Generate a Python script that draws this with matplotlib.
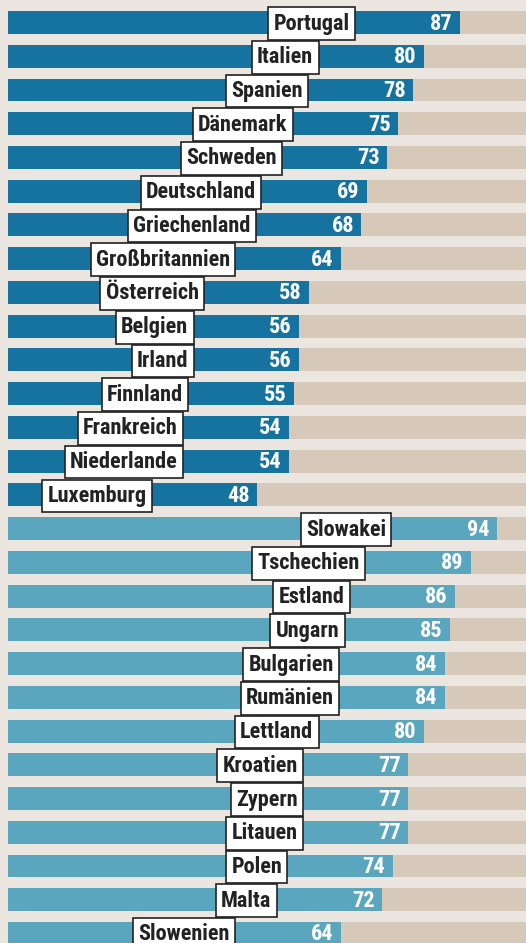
import matplotlib
matplotlib.use("Agg")
import matplotlib.pyplot as plt

# old member states (dark) and new member states (light)
old_countries = ["Portugal", "Italien", "Spanien", "Dänemark", "Schweden", "Deutschland",
                 "Griechenland", "Großbritannien", "Österreich", "Belgien", "Irland",
                 "Finnland", "Frankreich", "Niederlande", "Luxemburg"]
old_values = [87, 80, 78, 75, 73, 69, 68, 64, 58, 56, 56, 55, 54, 54, 48]

new_countries = ["Slowakei", "Tschechien", "Estland", "Ungarn", "Bulgarien", "Rumänien",
                 "Lettland", "Kroatien", "Zypern", "Litauen", "Polen", "Malta", "Slowenien"]
new_values = [94, 89, 86, 85, 84, 84, 80, 77, 77, 77, 74, 72, 64]

DARK = "#1673A0"
LIGHT = "#59A6BE"
TRACK = "#D6C9B9"
BG = "#EBE6E0"

plt.rcParams['font.family'] = ['Roboto Condensed', 'DejaVu Sans']

W, H = 526, 943
fig = plt.figure(figsize=(W / 100, H / 100), dpi=100, facecolor=BG)
x0 = 7.5
scale = 5.204  # px per unit
ax = fig.add_axes([x0 / W, 0, 1 - x0 / W, 1])
ax.set_facecolor(BG)

countries = old_countries + new_countries
values = old_values + new_values
colors = [DARK] * len(old_values) + [LIGHT] * len(new_values)

xmax = (W - x0) / scale
pitch = 33.74
ax.set_xlim(0, xmax)
ax.set_ylim((H - 22.5) / pitch, -22.5 / pitch)

n = len(values)
ypos = list(range(n))
ax.barh(ypos, [xmax + 5] * n, height=0.68, color=TRACK, zorder=1)
ax.barh(ypos, values, height=0.68, color=colors, zorder=2)

fs = 16
pad_units = 6.5 / scale
for y, name, v in zip(ypos, countries, values):
    ax.text(v - 20 - pad_units, y + 0.03, name, ha="right", va="center", fontsize=fs,
            fontweight="bold", color="#222222", zorder=4,
            bbox=dict(boxstyle="square,pad=0.24", fc="white", ec="#222222", lw=1.2))
    ax.text(v - 1.4, y + 0.03, str(v), ha="right", va="center", fontsize=fs,
            fontweight="bold", color="white", zorder=4)

ax.axis("off")
fig.savefig("out.png", dpi=100, facecolor=BG)
